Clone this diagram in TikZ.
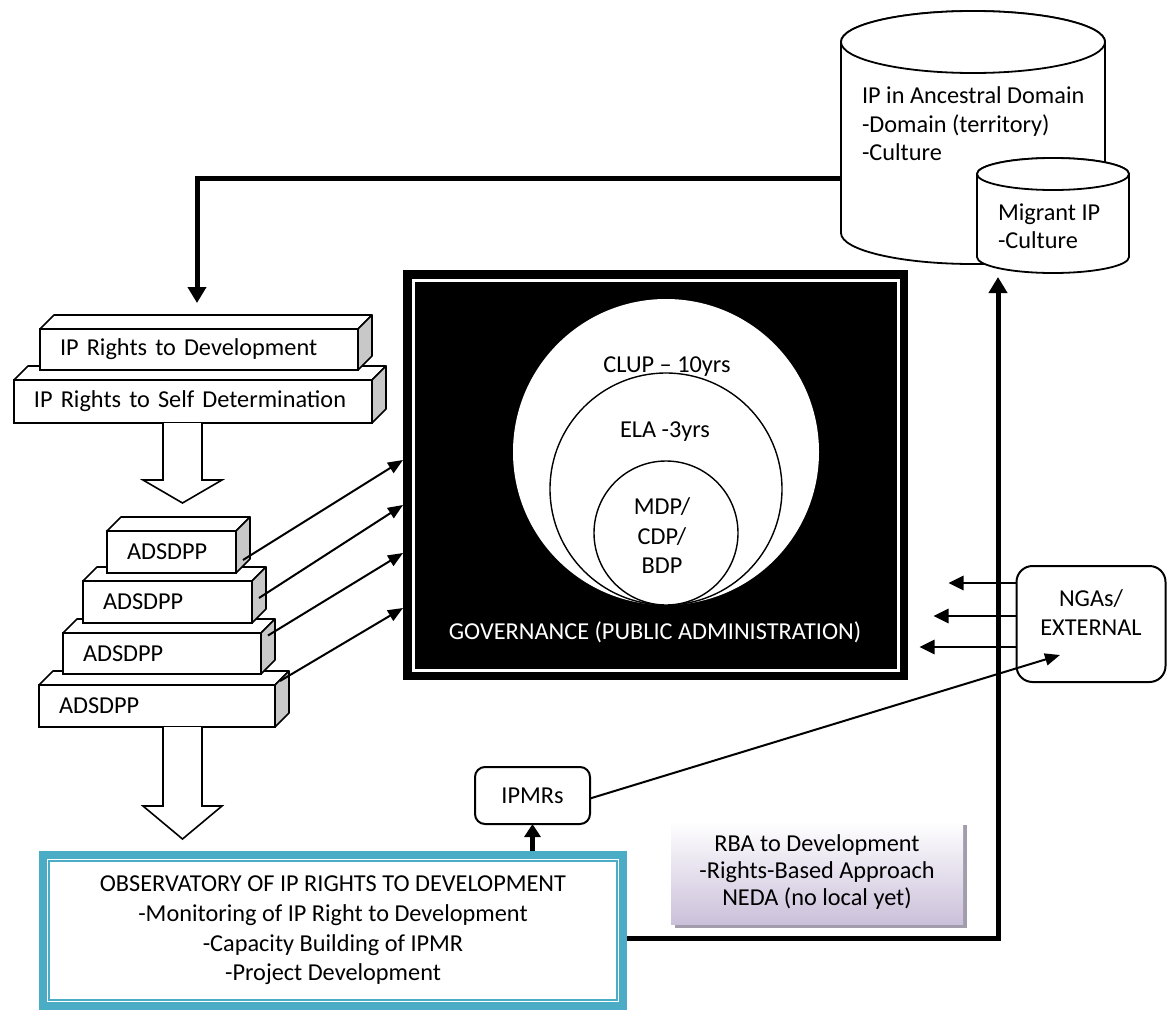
\documentclass[tikz,border=0pt]{standalone}
\usepackage{fontspec}
\setmainfont{Carlito}
\usetikzlibrary{arrows.meta,calc,shadows}
\definecolor{obsteal}{HTML}{4BACC6}
\definecolor{sidegray}{HTML}{C8C8C8}
\definecolor{rbalav}{HTML}{CBC0DA}
\definecolor{rbashadow}{HTML}{A29DAA}

% top and right faces of a 3D slab whose front face is the node #1
\newcommand\slabdepth[1]{%
  \draw[slabtop] (#1.north west) -- ++(14,-14) -- ($(#1.north east)+(14,-14)$) -- (#1.north east) -- cycle;
  \draw[slabside] (#1.north east) -- ++(14,-14) -- ($(#1.south east)+(14,-14)$) -- (#1.south east) -- cycle;}

\begin{document}
\begin{tikzpicture}[x=1pt,y=-1pt,
  every node/.style={font=\fontsize{24.3}{29}\selectfont, outer sep=0pt},
  txt/.style={inner sep=0pt},
  slabface/.style={draw, line width=1.6pt, fill=white, inner xsep=20pt, inner ysep=0pt, align=left},
  slabtop/.style={draw, line width=1.6pt, fill=white, line join=round},
  slabside/.style={draw, line width=1.6pt, fill=sidegray, line join=round},
  hollowarrow/.style={draw, line width=1.6pt, fill=white, line join=miter},
  cyl/.style={draw, line width=1.8pt, fill=white},
  heavyarrow/.style={line width=5pt, -{Triangle[length=16pt,width=18pt]}},
  thinarrow/.style={line width=2pt, -{Triangle[length=15pt,width=12pt]}},
  ngaarrow/.style={line width=2.8pt, -{Triangle[length=15pt,width=14pt]}},
  roundbox/.style={draw, line width=2pt, inner sep=0pt},
  ]
\useasboundingbox (0,0) rectangle (1168,1012);

% ---- ancestral domain cylinders ----
\node[minimum width=264pt, minimum height=191pt, inner sep=0pt] (anc) at (973,137.5) {};
\draw[cyl] (anc.north west) -- (anc.south west)
  arc[start angle=180, end angle=360, x radius=132pt, y radius=31pt]
  -- (anc.north east) arc[start angle=0, end angle=180, x radius=132pt, y radius=31pt] -- cycle;
\draw[cyl] (anc.north) ellipse[x radius=132pt, y radius=31pt];
\node[txt, align=left, anchor=west, font=\fontsize{24.3}{28.5}\selectfont] (anctext) at (862,124)
  {IP in Ancestral Domain\\-Domain (territory)\\-Culture};

\node[minimum width=152pt, minimum height=83pt, inner sep=0pt] (mig) at (1053,215.5) {};
\draw[cyl] (mig.north west) -- (mig.south west)
  arc[start angle=180, end angle=360, x radius=76pt, y radius=16pt]
  -- (mig.north east) arc[start angle=0, end angle=180, x radius=76pt, y radius=16pt] -- cycle;
\draw[cyl] (mig.north) ellipse[x radius=76pt, y radius=16pt];
\node[txt, align=left, anchor=west, font=\fontsize{24.3}{28}\selectfont] (migtext) at (998,226)
  {Migrant IP\\-Culture};

% ---- rights slabs ----
\node[slabface, minimum height=43pt, text width=318pt] (rsd) at (193,401.5) {IP Rights to Self Determination};
\slabdepth{rsd}
\node[slabface, minimum height=41pt, text width=278pt] (rtd) at (199,349.5) {IP Rights to Development};
\slabdepth{rtd}

% hollow arrow down to the ADSDPP stack
\draw[hollowarrow] (163,0 |- rsd.south) -- (163,480) -- (143,480) -- (182.5,503)
  -- (222,480) -- (202,480) -- (202,0 |- rsd.south);

% ---- ADSDPP stack ----
\node[slabface, minimum height=42pt, text width=196pt] (b4) at (157,706) {ADSDPP};
\slabdepth{b4}
\node[slabface, minimum height=41pt, text width=158pt] (b3) at (162,653.5) {ADSDPP};
\slabdepth{b3}
\node[slabface, minimum height=42pt, text width=129pt] (b2) at (167.5,602) {ADSDPP};
\slabdepth{b2}
\node[slabface, minimum height=42pt, text width=89pt] (b1) at (171.5,552) {ADSDPP};
\slabdepth{b1}

% hollow arrow down to the observatory
\draw[hollowarrow] (163,0 |- b4.south) -- (163,806) -- (143,806) -- (182.5,839)
  -- (222,806) -- (202,806) -- (202,0 |- b4.south);

% ---- governance box ----
\node[fill=black, minimum width=505pt, minimum height=410pt, inner sep=0pt] (gov) at (655.5,475) {};
\draw[white, line width=3pt] ([shift={(10pt,-10pt)}]gov.north west) rectangle ([shift={(-10pt,10pt)}]gov.south east);
\node[circle, fill=white, minimum size=306pt, inner sep=0pt] (clup) at (666,452) {};
\node[circle, draw, line width=1.4pt, fill=white, minimum size=232pt, inner sep=0pt] (ela) at (666,489) {};
\node[circle, draw, line width=1.4pt, fill=white, minimum size=144pt, inner sep=0pt] (mdp) at (666,533) {};
\node[txt] (cluptext) at (667,367) {CLUP – 10yrs};
\node[txt] (elatext) at (665,432) {ELA -3yrs};
\node[txt, align=center, font=\fontsize{24.3}{29.5}\selectfont] (mdptext) at (662,536) {MDP/\\CDP/\\BDP};
\node[txt, text=white] (govtext) at (655,632) {GOVERNANCE (PUBLIC ADMINISTRATION)};

% ---- NGAs / external ----
\node[roundbox, rounded corners=16pt, minimum width=149pt, minimum height=116pt] (ngo) at (1091,624) {};
\node[txt, align=center] (ngotext) at (1091,612.5) {NGAs/\\EXTERNAL};

% ---- IPMRs ----
\node[roundbox, rounded corners=10pt, minimum width=115pt, minimum height=57pt] (ipmr) at (532.5,795.5) {IPMRs};

% ---- RBA note ----
\node[top color=white, bottom color=rbalav, minimum width=292pt, minimum height=103pt, inner sep=0pt,
  align=center, font=\fontsize{24.3}{27}\selectfont,
  drop shadow={shadow xshift=4pt, shadow yshift=-4pt, fill=rbashadow, opacity=1}] (rba) at (817,872.5)
  {RBA to Development\\-Rights-Based Approach\\NEDA (no local yet)};

% ---- observatory ----
\node[draw=obsteal, line width=8pt, outer sep=4pt, minimum width=580pt, minimum height=151pt, inner sep=0pt,
  align=center, font=\fontsize{24.3}{29.7}\selectfont] (obs) at (333,930.5)
  {OBSERVATORY OF IP RIGHTS TO DEVELOPMENT\\-Monitoring of IP Right to Development\\-Capacity Building of IPMR\\-Project Development};
\draw[obsteal, line width=1.6pt] ([shift={(10pt,-10pt)}]obs.north west) rectangle ([shift={(-10pt,10pt)}]obs.south east);

% ---- connectors ----
\draw[heavyarrow] (anc.west |- 0,178) -| ([xshift=-2pt,yshift=26pt]rtd.north);
\draw[thinarrow] ([xshift=7pt,yshift=-8pt]b1.east) -- ([yshift=15pt]gov.west);
\draw[thinarrow] ([xshift=7pt,yshift=4pt]b2.east) -- ([yshift=-30pt]gov.west);
\draw[thinarrow] ([xshift=7pt,yshift=18pt]b3.east) -- ([yshift=-78pt]gov.west);
\draw[thinarrow] ([xshift=5pt,yshift=25pt]b4.east) -- ([yshift=-133pt]gov.west);
\draw[heavyarrow] (obs.east |- 0,938) -| ([xshift=-55pt,yshift=-20pt]mig.south);
\draw[ngaarrow] ([yshift=41pt]ngo.west) -- ++(-68,0);
\draw[ngaarrow] ([yshift=8pt]ngo.west) -- ++(-83,0);
\draw[ngaarrow] ([yshift=-23pt]ngo.west) -- ++(-97,0);
\draw[thinarrow] ([yshift=-3pt]ipmr.east) -- ([xshift=-31pt,yshift=27pt]ngo.south);
\draw[line width=5pt, -{Triangle[length=13pt,width=16pt]}] (ipmr.south |- obs.north) -- (ipmr.south);
\end{tikzpicture}
\end{document}
